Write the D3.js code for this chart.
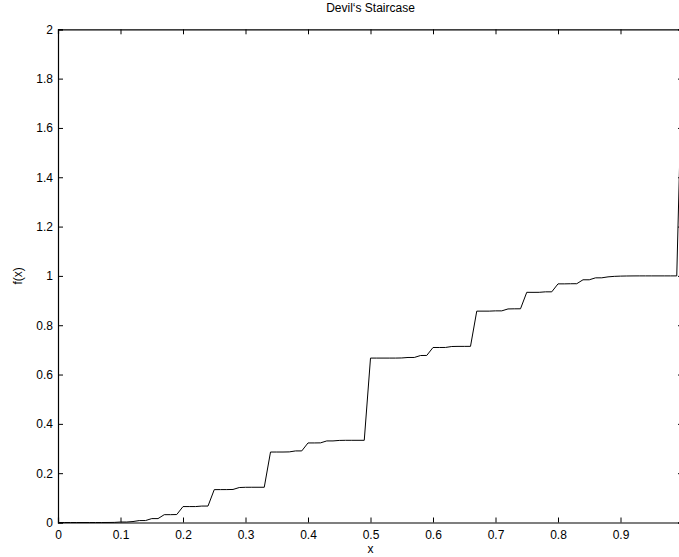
<!DOCTYPE html>
<html>
<head>
<meta charset="utf-8">
<script src="https://cdn.jsdelivr.net/npm/d3@7"></script>
<style>
  body { margin: 0; background: #fff; }
  svg text { font-family: "Liberation Sans", Arial, Helvetica, sans-serif; fill: #000; }
</style>
</head>
<body>
<svg id="chart" width="679" height="557"></svg>
<script>
// sampled at x = 0, 0.01, ..., 1
const xs = d3.range(0, 101).map(i => i / 100);

// f(x), one value per sample
const fx = [
  0, 0, 0, 0, 0, 0, 0, 0, 0.0001, 0.0004,
  0.0019, 0.0019, 0.0039, 0.0078, 0.0079, 0.0158, 0.0158, 0.0317, 0.0318, 0.0323,
  0.0646, 0.0646, 0.0646, 0.0666, 0.0667, 0.1333, 0.1334, 0.1335, 0.1340, 0.1418,
  0.1428, 0.1429, 0.1429, 0.1429, 0.2857, 0.2858, 0.2858, 0.2863, 0.2902, 0.2903,
  0.3226, 0.3226, 0.3229, 0.3308, 0.3308, 0.3328, 0.3333, 0.3333, 0.3333, 0.3333,
  0.6667, 0.6667, 0.6667, 0.6667, 0.6667, 0.6672, 0.6692, 0.6692, 0.6771, 0.6774,
  0.7097, 0.7097, 0.7098, 0.7137, 0.7142, 0.7142, 0.7143, 0.8571, 0.8571, 0.8571,
  0.8582, 0.8582, 0.8660, 0.8665, 0.8666, 0.9334, 0.9333, 0.9334, 0.9354, 0.9354,
  0.9677, 0.9677, 0.9682, 0.9683, 0.9842, 0.9842, 0.9921, 0.9922, 0.9961, 0.9981,
  0.9991, 0.9996, 0.9999, 1, 1, 1, 1, 1, 1, 1,
  2
];

// the tick at 1 sits past the window edge, so it has no visible label
const xTicks      = [0, 0.1, 0.2, 0.3, 0.4, 0.5, 0.6, 0.7, 0.8, 0.9, 1];
const xTickLabels = ["0", "0.1", "0.2", "0.3", "0.4", "0.5", "0.6", "0.7", "0.8", "0.9", ""];
const yTicks      = [0, 0.2, 0.4, 0.6, 0.8, 1, 1.2, 1.4, 1.6, 1.8, 2];
const yTickLabels = ["0", "0.2", "0.4", "0.6", "0.8", "1", "1.2", "1.4", "1.6", "1.8", "2"];

const titleText = "Devil\u2018s Staircase";
const xLabel    = "x";
const yLabel    = "f(x)";

const svg = d3.select("#chart");

// axes box (right edge falls just past the window, like the original)
const plot = { left: 58, right: 683, top: 29.3, bottom: 522.5 };
const tick_len = 5;

const x = d3.scaleLinear().domain([0, 1]).range([plot.left, plot.right]);
const y = d3.scaleLinear().domain([0, 2]).range([plot.bottom, plot.top]);

const g = svg.append("g");

// the curve
const line = d3.line()
  .x((d, i) => x(xs[i]))
  .y(d => y(d));

g.append("path")
  .datum(fx)
  .attr("d", line)
  .attr("fill", "none")
  .attr("stroke", "#000")
  .attr("stroke-width", 1);

// inward ticks on all four sides
const xAxisB = d3.axisBottom(x).tickValues(xTicks).tickSize(-tick_len).tickPadding(8)
  .tickFormat((d, i) => xTickLabels[i]);
const xAxisT = d3.axisTop(x).tickValues(xTicks).tickSize(-tick_len).tickFormat("");
const yAxisL = d3.axisLeft(y).tickValues(yTicks).tickSize(-tick_len).tickPadding(5)
  .tickFormat((d, i) => yTickLabels[i]);
const yAxisR = d3.axisRight(y).tickValues(yTicks).tickSize(-tick_len).tickFormat("");

function styleAxis(sel) {
  sel.select(".domain").attr("stroke", "#000").attr("stroke-width", 1.2);
  sel.selectAll(".tick line").attr("stroke", "#000").attr("stroke-width", 1);
  sel.selectAll(".tick text").style("font-size", "12px").attr("fill", "#000");
}

g.append("g").attr("transform", `translate(0,${plot.bottom})`).call(xAxisB).call(styleAxis);
g.append("g").attr("transform", `translate(0,${plot.top})`).call(xAxisT).call(styleAxis);
g.append("g").attr("transform", `translate(${plot.left},0)`).call(yAxisL).call(styleAxis);
g.append("g").attr("transform", `translate(${plot.right},0)`).call(yAxisR).call(styleAxis);

// title and labels
svg.append("text")
  .attr("x", (plot.left + plot.right) / 2)
  .attr("y", 12)
  .attr("text-anchor", "middle")
  .style("font-size", "12px")
  .text(titleText);

svg.append("text")
  .attr("x", (plot.left + plot.right) / 2)
  .attr("y", 553)
  .attr("text-anchor", "middle")
  .style("font-size", "12px")
  .text(xLabel);

svg.append("text")
  .attr("transform", `translate(22,${(plot.top + plot.bottom) / 2}) rotate(-90)`)
  .attr("text-anchor", "middle")
  .style("font-size", "12px")
  .text(yLabel);
</script>
</body>
</html>
